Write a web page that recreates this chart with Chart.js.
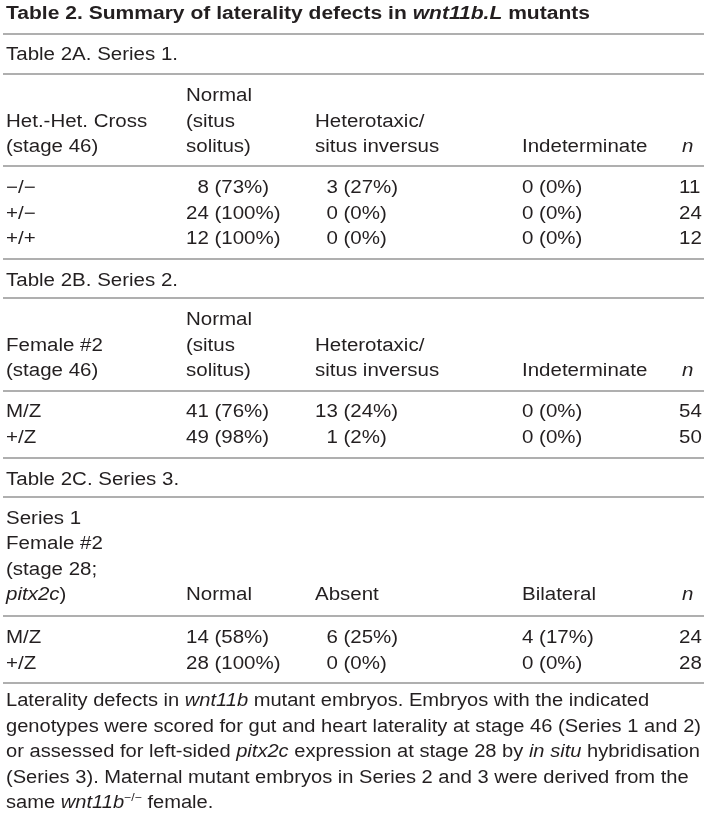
<!DOCTYPE html>
<html>
<head>
<meta charset="utf-8">
<script src="https://cdn.jsdelivr.net/npm/chart.js@4.4.1/dist/chart.umd.min.js"></script>
<style>
  html, body { margin: 0; padding: 0; background: #fff; }
  #wrap { width: 708px; height: 813px; position: relative; }
</style>
</head>
<body>
<div id="wrap"><canvas id="table2"></canvas></div>
<script>
// ---- data ----
const genotypesA = ['−/−', '+/−', '+/+']
const normalA = [8, 24, 12]
const normalPctA = [73, 100, 100]
const heteroA = [3, 0, 0]
const heteroPctA = [27, 0, 0]
const indetA = [0, 0, 0]
const indetPctA = [0, 0, 0]
const totalA = [11, 24, 12]

const genotypesB = ['M/Z', '+/Z']
const normalB = [41, 49]
const normalPctB = [76, 98]
const heteroB = [13, 1]
const heteroPctB = [24, 2]
const indetB = [0, 0]
const indetPctB = [0, 0]
const totalB = [54, 50]

const genotypesC = ['M/Z', '+/Z']
const normalC = [14, 28]
const normalPctC = [58, 100]
const absentC = [6, 0]
const absentPctC = [25, 0]
const bilateralC = [4, 0]
const bilateralPctC = [17, 0]
const totalC = [24, 28]

const mainTitle = [{ t: 'Table 2. Summary of laterality defects in ' }, { t: 'wnt11b.L', i: true }, { t: ' mutants' }]
const headersA = [['Het.-Het. Cross', '(stage 46)'], ['Normal', '(situs', 'solitus)'], ['Heterotaxic/', 'situs inversus'], ['Indeterminate'], [[{ t: 'n', i: true }]]]
const headersB = [['Female #2', '(stage 46)'], ['Normal', '(situs', 'solitus)'], ['Heterotaxic/', 'situs inversus'], ['Indeterminate'], [[{ t: 'n', i: true }]]]
const headersC = [['Series 1', 'Female #2', '(stage 28;', [{ t: 'pitx2c', i: true }, { t: ')' }]], ['Normal'], ['Absent'], ['Bilateral'], [[{ t: 'n', i: true }]]]
const captionLines = [
  [{ t: 'Laterality defects in ' }, { t: 'wnt11b', i: true }, { t: ' mutant embryos. Embryos with the indicated' }],
  [{ t: 'genotypes were scored for gut and heart laterality at stage 46 (Series 1 and 2)' }],
  [{ t: 'or assessed for left-sided ' }, { t: 'pitx2c', i: true }, { t: ' expression at stage 28 by ' }, { t: 'in situ', i: true }, { t: ' hybridisation' }],
  [{ t: '(Series 3). Maternal mutant embryos in Series 2 and 3 were derived from the' }],
  [{ t: 'same ' }, { t: 'wnt11b', i: true }, { t: '−/−', sup: true }, { t: ' female.' }]
]

// ---- layout ----
const PAGE_W = 708, PAGE_H = 813
const PITCH = 25.5
const FONT = '"Liberation Sans", Arial, Helvetica, sans-serif'
const TEXT = '#231f20'
const RULE = '#959595'
const colX = [6, 186, 315, 522, 679]
const layouts = [
  { titleY: 59.5, ruleTop: 74, headerBottom: 152, ruleHead: 166, firstRow: 193, ruleBottom: 259 },
  { titleY: 286, ruleTop: 298, headerBottom: 376, ruleHead: 391, firstRow: 417, ruleBottom: 458 },
  { titleY: 485, ruleTop: 497, headerBottom: 600, ruleHead: 616, firstRow: 643, ruleBottom: 683 }
]

const tables = [
  { title: 'Table 2A. Series 1.', headers: headersA, rows: genotypesA,
    cols: [[normalA, normalPctA, 2], [heteroA, heteroPctA, 2], [indetA, indetPctA, 1]], totals: totalA },
  { title: 'Table 2B. Series 2.', headers: headersB, rows: genotypesB,
    cols: [[normalB, normalPctB, 2], [heteroB, heteroPctB, 2], [indetB, indetPctB, 1]], totals: totalB },
  { title: 'Table 2C. Series 3.', headers: headersC, rows: genotypesC,
    cols: [[normalC, normalPctC, 2], [absentC, absentPctC, 2], [bilateralC, bilateralPctC, 1]], totals: totalC }
]

// ---- text helpers ----
function segFont(s, bold) {
  const size = s.sup ? 11 : 18
  return (s.i ? 'italic ' : '') + (bold ? 'bold ' : '') + size + 'px ' + FONT
}
function toSegs(v) { return typeof v === 'string' ? [{ t: v }] : v }
function richWidth(ctx, segs, bold) {
  let w = 0
  for (const s of segs) { ctx.font = segFont(s, bold); w += ctx.measureText(s.t).width }
  return w
}
function drawRich(ctx, segs, x, y, sx, bold) {
  ctx.save()
  ctx.translate(x, y)
  ctx.scale(sx, 1)
  ctx.fillStyle = TEXT
  ctx.textBaseline = 'alphabetic'
  let cx = 0
  for (const s of segs) {
    ctx.font = segFont(s, bold)
    ctx.fillText(s.t, cx, s.sup ? -7 : 0)
    cx += ctx.measureText(s.t).width
  }
  ctx.restore()
}

// cells go in as scatter points so the scales place them
const cellDatasets = []
tables.forEach((tb, ti) => {
  const lay = layouts[ti]
  const ys = tb.rows.map((_, r) => lay.firstRow + r * PITCH)
  cellDatasets.push({ data: tb.rows.map((g, r) => ({ x: colX[0], y: ys[r] })), texts: tb.rows.slice(), pad: 0 })
  tb.cols.forEach(([counts, pcts, pad], ci) => {
    cellDatasets.push({
      data: counts.map((c, r) => ({ x: colX[ci + 1], y: ys[r] })),
      texts: counts.map((c, r) => `${c} (${pcts[r]}%)`),
      digits: counts.map(c => String(c).length),
      pad: pad
    })
  })
  cellDatasets.push({ data: tb.totals.map((n, r) => ({ x: colX[4], y: ys[r] })), texts: tb.totals.map(String), pad: 0 })
})

let sxTable = 1.12
const tablePlugin = {
  id: 'tableText',
  beforeDraw(chart) {
    const ctx = chart.ctx
    ctx.save()
    ctx.fillStyle = '#fff'
    ctx.fillRect(0, 0, chart.width, chart.height)
    ctx.restore()
  },
  afterDatasetsDraw(chart) {
    const ctx = chart.ctx
    const xs = chart.scales.x, ys = chart.scales.y
    const px = v => xs.getPixelForValue(v)
    const py = v => ys.getPixelForValue(v)

    // horizontal stretch of the typeset text
    sxTable = 172 / richWidth(ctx, toSegs('Table 2A. Series 1.'), false)
    const sxTitle = 584 / richWidth(ctx, mainTitle, true)
    const sxCap = 695 / richWidth(ctx, captionLines[1], false)
    ctx.font = segFont({}, false)
    const digitW = ctx.measureText('0').width * sxTable

    // rules
    const rules = [34]
    layouts.forEach(l => rules.push(l.ruleTop, l.ruleHead, l.ruleBottom))
    ctx.save()
    ctx.strokeStyle = RULE
    ctx.lineWidth = 1.5
    for (const r of rules) {
      ctx.beginPath()
      ctx.moveTo(px(3), py(r))
      ctx.lineTo(px(704), py(r))
      ctx.stroke()
    }
    ctx.restore()

    drawRich(ctx, mainTitle, px(6), py(18.5), sxTitle, true)

    tables.forEach((tb, ti) => {
      const lay = layouts[ti]
      drawRich(ctx, toSegs(tb.title), px(6), py(lay.titleY), sxTable, false)
      tb.headers.forEach((lines, ci) => {
        const k = lines.length
        lines.forEach((ln, j) => {
          const hx = ci === 4 ? colX[ci] + 3 : colX[ci]
          drawRich(ctx, toSegs(ln), px(hx), py(lay.headerBottom - (k - 1 - j) * PITCH), sxTable, false)
        })
      })
    })

    // body cells from the scatter elements
    chart.data.datasets.forEach((ds, di) => {
      const meta = chart.getDatasetMeta(di)
      meta.data.forEach((el, i) => {
        const shift = ds.pad && ds.digits ? Math.max(0, ds.pad - ds.digits[i]) * digitW : 0
        drawRich(ctx, toSegs(ds.texts[i]), el.x + shift, el.y, sxTable, false)
      })
    })

    captionLines.forEach((ln, i) => {
      drawRich(ctx, ln, px(6), py(706 + i * PITCH), sxCap, false)
    })
  }
}

new Chart(document.getElementById('table2'), {
  type: 'scatter',
  data: { datasets: cellDatasets },
  options: {
    responsive: true,
    maintainAspectRatio: false,
    animation: false,
    events: [],
    layout: { padding: 0 },
    elements: { point: { radius: 0, hoverRadius: 0 } },
    scales: {
      x: { type: 'linear', min: 0, max: PAGE_W, display: false },
      y: { type: 'linear', min: 0, max: PAGE_H, reverse: true, display: false }
    },
    plugins: { legend: { display: false }, tooltip: { enabled: false } }
  },
  plugins: [tablePlugin]
})
</script>
</body>
</html>
